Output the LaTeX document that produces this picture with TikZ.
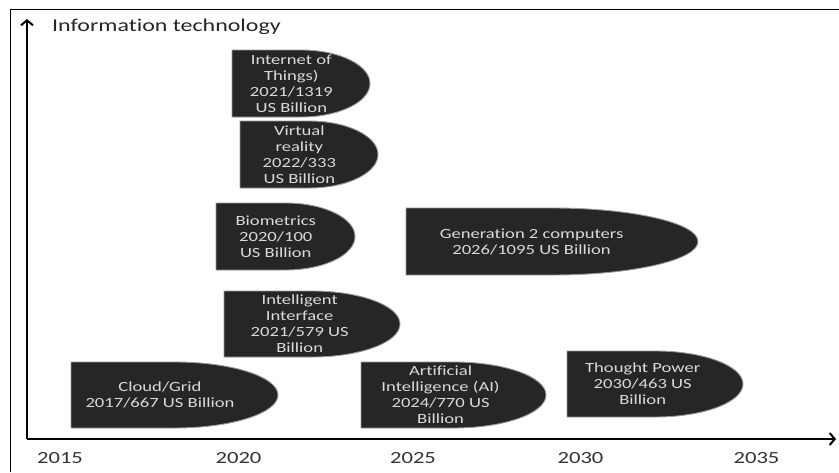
\documentclass[tikz,border=0pt]{standalone}
\usepackage{fontspec}
\setmainfont{Carlito}[FakeStretch=1.33,Ligatures={NoCommon}]
\usetikzlibrary{arrows.meta}
\definecolor{boxfill}{HTML}{262626}
\definecolor{boxedge}{HTML}{9A9A9A}
\definecolor{boxtxt}{HTML}{DADADA}
\definecolor{labtxt}{HTML}{333333}
\tikzset{
  shapebox/.style={fill=boxfill,draw=boxedge,line width=0.9pt},
  boxtext/.style={text=boxtxt,align=center,font=\fontsize{14}{16}\selectfont,inner sep=0pt},
  yearlab/.style={text=labtxt,font=\fontsize{17}{20}\selectfont,inner sep=0pt},
  axisline/.style={line width=2pt,-{Straight Barb[length=5pt,width=12pt,line width=2pt]}},
  frameline/.style={line width=1pt}
}
\newcommand\delaybox[6]{%
  \pgfmathsetmacro\rxx{(#4-#2)/2}%
  \pgfmathsetmacro\ryy{(#5-#3)/2}%
  \pgfmathsetmacro\mxx{(#2+#4)/2}%
  \pgfmathsetmacro\txx{#2+0.43*(#4-#2)}%
  \pgfmathsetmacro\tyy{(#3+#5)/2}%
  \path[shapebox] (#2,#3) -- (\mxx,#3) arc[start angle=-90,end angle=90,x radius=\rxx,y radius=\ryy] -- (#2,#5) -- cycle;
  \node[boxtext] (#1) at (\txx,\tyy) {#6};
}
\begin{document}
\begin{tikzpicture}[x=1pt,y=-1pt]
\useasboundingbox (0,0) rectangle (839,472);
\fill[white] (0,0) rectangle (839,472);
% frame
\coordinate (fbl) at (10,472);
\coordinate (ftl) at (10,9);
\coordinate (ftr) at (839,9);
\draw[frameline] (fbl) -- (ftl) -- (ftr);
% axes
\coordinate (origin) at (27,439);
\coordinate (ytop) at (27,19);
\coordinate (xend) at (836,439);
\draw[axisline] (origin) -- (ytop);
\draw[axisline] (origin) -- (xend);
\node[anchor=west,text=black!85,font=\fontsize{18}{20}\selectfont,inner sep=0pt] (title) at (52,27) {Information technology};
% boxes
\delaybox{iot}{232}{50}{370}{117}{Internet of\\Things)\\2021/1319\\US Billion}
\delaybox{vr}{240}{121}{378}{188}{Virtual\\reality\\2022/333\\US Billion}
\delaybox{bio}{216}{203}{355}{270}{Biometrics\\2020/100\\US Billion}
\delaybox{gen}{406}{208}{698}{275}{Generation 2 computers\\2026/1095 US Billion}
\delaybox{ii}{224}{291}{400}{357}{Intelligent\\Interface\\2021/579 US\\Billion}
\delaybox{cloud}{71}{362}{278}{428}{\fontsize{14}{17}\selectfont Cloud/Grid\\2017/667 US Billion}
\delaybox{ai}{361}{362}{546}{428}{Artificial\\Intelligence (AI)\\2024/770 US\\Billion}
\delaybox{tp}{567}{351}{743}{417}{\fontsize{14}{16.7}\selectfont Thought Power\\2030/463 US\\Billion}
% years
\node[yearlab] (y2015) at (60,458) {2015};
\node[yearlab] (y2020) at (238.5,458) {2020};
\node[yearlab] (y2025) at (413,458) {2025};
\node[yearlab] (y2030) at (580.5,458) {2030};
\node[yearlab] (y2035) at (756.5,458) {2035};
\end{tikzpicture}
\end{document}
